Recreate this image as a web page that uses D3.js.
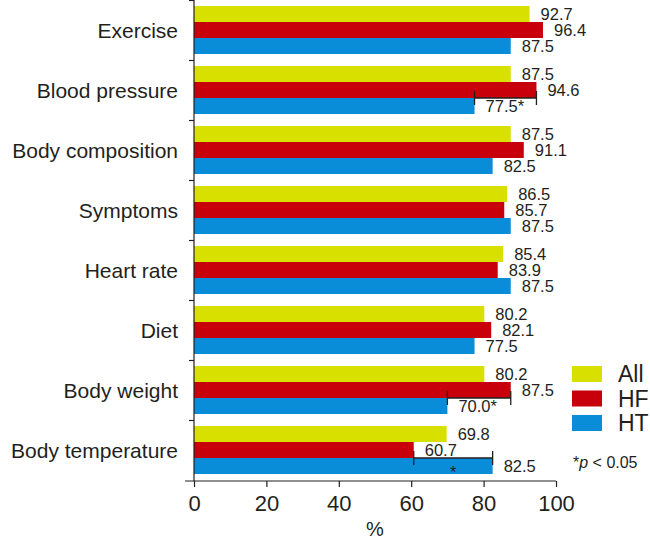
<!DOCTYPE html>
<html>
<head>
<meta charset="utf-8">
<script src="https://cdn.jsdelivr.net/npm/d3@7"></script>
<style>
  body { margin: 0; background: #fff; }
  svg { display: block; font-family: "Liberation Sans", Arial, sans-serif; }
  text { fill: #231f20; }
</style>
</head>
<body>
<div id="chart"></div>
<script>
var categories = ["Exercise", "Blood pressure", "Body composition", "Symptoms",
                  "Heart rate", "Diet", "Body weight", "Body temperature"];
var seriesNames = ["All", "HF", "HT"];
var allValues = [92.7, 87.5, 87.5, 86.5, 85.4, 80.2, 80.2, 69.8];
var hfValues  = [96.4, 94.6, 91.1, 85.7, 83.9, 82.1, 87.5, 60.7];
var htValues  = [87.5, 77.5, 82.5, 87.5, 87.5, 77.5, 70.0, 82.5];
var htLabels  = ["87.5", "77.5*", "82.5", "87.5", "87.5", "77.5", "70.0*", "82.5"];
var xTicks = [0, 20, 40, 60, 80, 100];
// significance brackets: category, from series, to series
var brackets = [
    {cat: "Blood pressure", a: "HT", b: "HF", star: false},
    {cat: "Body weight", a: "HT", b: "HF", star: false},
    {cat: "Body temperature", a: "HF", b: "HT", star: true}
];

var colors = {All: "#d8e000", HF: "#c7000b", HT: "#0a8dd8"};
var W = 650, H = 539;
var marginLeft = 194, marginTop = 0, plotW = 362, plotH = 481;

var svg = d3.select("#chart").append("svg")
    .attr("width", W).attr("height", H);

var x = d3.scaleLinear().domain([0, 100]).range([marginLeft, marginLeft + plotW]);
var y0 = d3.scaleBand().domain(categories).range([marginTop, marginTop + 480])
    .paddingInner(0.2).paddingOuter(0.1);
var y1 = d3.scaleBand().domain(seriesNames).range([0, y0.bandwidth()]);

var data = categories.map(function(c, i){
    return {cat: c, vals: [
        {s: "All", v: allValues[i], label: allValues[i].toFixed(1)},
        {s: "HF", v: hfValues[i], label: hfValues[i].toFixed(1)},
        {s: "HT", v: htValues[i], label: htLabels[i]}
    ]};
});
function valueOf(cat, s){
    var i = categories.indexOf(cat);
    return s == "All" ? allValues[i] : (s == "HF" ? hfValues[i] : htValues[i]);
}

var groups = svg.append("g").selectAll(".grp")
    .data(data).enter().append("g")
    .attr("class", "grp")
    .attr("transform", function(d){ return "translate(0," + y0(d.cat) + ")"; });

groups.selectAll("rect")
    .data(function(d){ return d.vals; })
    .enter().append("rect")
    .attr("x", x(0))
    .attr("y", function(d){ return y1(d.s); })
    .attr("width", function(d){ return x(d.v) - x(0); })
    .attr("height", y1.bandwidth())
    .style("fill", function(d){ return colors[d.s]; });

groups.selectAll(".val")
    .data(function(d){ return d.vals; })
    .enter().append("text")
    .attr("class", "val")
    .attr("x", function(d){ return x(d.v) + 11; })
    .attr("y", function(d){ return y1(d.s) + y1.bandwidth() / 2; })
    .attr("dy", "0.36em")
    .style("font-size", "16.5px")
    .text(function(d){ return d.label; });

// category labels
svg.append("g").selectAll(".cat")
    .data(categories).enter().append("text")
    .attr("x", 178)
    .attr("y", function(d){ return y0(d) + y0.bandwidth() / 2; })
    .attr("dy", "0.36em")
    .attr("text-anchor", "end")
    .style("font-size", "21px")
    .text(function(d){ return d; });

// brackets
var bk = svg.append("g").attr("stroke", "#231f20").attr("stroke-width", 1.3);
brackets.forEach(function(b){
    var yy = y0(b.cat) + y1("HT");
    var xa = x(valueOf(b.cat, b.a)), xb = x(valueOf(b.cat, b.b));
    bk.append("line").attr("x1", xa).attr("x2", xb).attr("y1", yy).attr("y2", yy);
    bk.append("line").attr("x1", xa).attr("x2", xa).attr("y1", yy - 7).attr("y2", yy + 7);
    bk.append("line").attr("x1", xb).attr("x2", xb).attr("y1", yy - 7).attr("y2", yy + 7);
    if (b.star) {
        svg.append("text")
            .attr("x", (xa + xb) / 2)
            .attr("y", yy + y1.bandwidth() / 2)
            .attr("dy", "0.75em")
            .attr("text-anchor", "middle")
            .style("font-size", "16.5px")
            .text("*");
    }
});

// y axis with ticks at group boundaries
var bounds = d3.range(categories.length).map(function(i){
    return y0(categories[i]) - y0.step() * y0.paddingOuter();
});
var yAxis = svg.append("g").attr("stroke", "#231f20").attr("stroke-width", 1.2);
yAxis.append("line").attr("x1", marginLeft).attr("x2", marginLeft).attr("y1", 0).attr("y2", plotH);
yAxis.selectAll(".yt").data(bounds).enter().append("line")
    .attr("x1", marginLeft - 5).attr("x2", marginLeft)
    .attr("y1", function(d){ return d + 0.5; })
    .attr("y2", function(d){ return d + 0.5; });

// x axis
var xAxis = svg.append("g")
    .attr("transform", "translate(0," + plotH + ")")
    .call(d3.axisBottom(x).tickValues(xTicks).tickSize(6).tickSizeOuter(0).tickPadding(8));
xAxis.select(".domain").remove();
xAxis.append("line").attr("x1", marginLeft - 9).attr("x2", x(100)).attr("y1", 0).attr("y2", 0)
    .attr("stroke", "#231f20").attr("stroke-width", 1.2);
xAxis.selectAll(".tick line").attr("stroke", "#231f20").attr("stroke-width", 1.2);
xAxis.selectAll(".tick text")
    .style("font-size", "22px")
    .style("font-family", "Liberation Sans, Arial, sans-serif")
    .attr("fill", "#231f20");

svg.append("text")
    .attr("x", x(50)).attr("y", 536)
    .attr("text-anchor", "middle")
    .style("font-size", "20px")
    .text("%");

// legend
var lg = svg.append("g").attr("transform", "translate(572,366)");
seriesNames.forEach(function(s, i){
    lg.append("rect").attr("x", 0).attr("y", i * 24.5)
        .attr("width", 30).attr("height", 16).style("fill", colors[s]);
    lg.append("text").attr("x", 46).attr("y", i * 24.5 + 16)
        .style("font-size", "23px").text(s);
});
var note = svg.append("text").attr("x", 573).attr("y", 468).style("font-size", "16px");
note.append("tspan").text("*");
note.append("tspan").style("font-style", "italic").text("p");
note.append("tspan").text(" < 0.05");
</script>
</body>
</html>
